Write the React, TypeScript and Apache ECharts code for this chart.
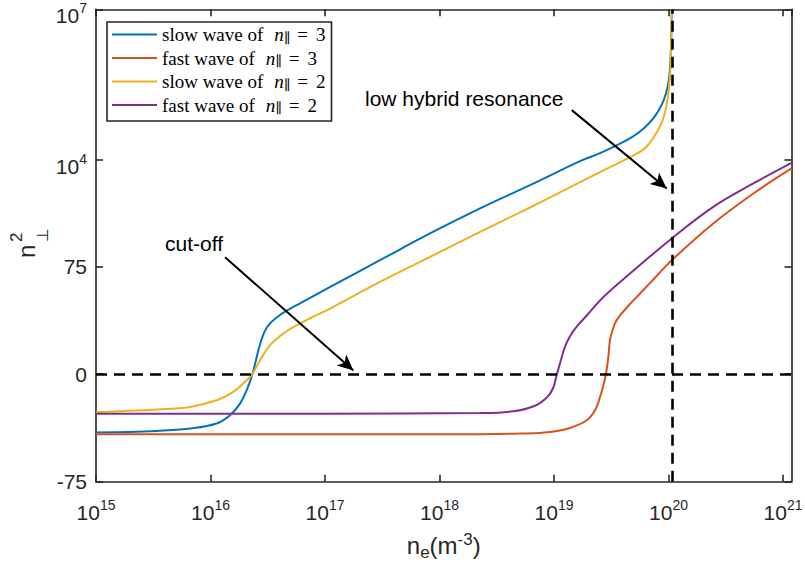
import { useEffect, useRef } from 'react';
import * as echarts from 'echarts';

// y-axis display transform (signed log-like scale used by the figure)
const K = 0.55;
const tr = (v: number) => Math.sign(v) * Math.log10(1 + Math.abs(v) / K);

// ---------- data (n_e in m^-3, n_perp^2) ----------
const slow3X = [1e15, 3.39e15, 6.62e15, 1.13e16, 1.48e16, 1.81e16, 2.07e16, 2.32e16, 2.47e16, 2.74e16, 3.11e16, 3.81e16, 5.05e16, 6.05e16, 1.11e17, 3.02e17, 8.26e17, 2.26e18, 6.17e18, 1.69e19, 2.52e19, 3.41e19, 4.8e19, 6.24e19, 7.62e19, 8.77e19, 9.51e19, 1.0e20, 1.031e20, 1.051e20, 1.062e20, 1.068e20];
const slow3Y = [-7.4, -6.84, -6.07, -4.71, -3.05, -1.56, -0.594, 0, 0.403, 1.83, 4.19, 6.94, 10.77, 13.5, 29.5, 101.5, 346.5, 1092, 3172, 9535, 13751, 18943, 28600, 45223, 74890, 129826, 214962, 355928, 676500, 1.94e6, 4.85e6, 1e7];

const fast3X = [1e15, 1e17, 2.26e18, 5.05e18, 9.23e18, 1.38e19, 1.93e19, 2.28e19, 2.52e19, 2.7e19, 2.84e19, 2.98e19, 3.08e19, 3.24e19, 3.48e19, 3.85e19, 4.43e19, 5.64e19, 7.62e19, 1.068e20, 2.46e20, 5.51e20, 1.186e21];
const fast3Y = [-8.05, -8.05, -8.0, -7.78, -7.18, -5.9, -3.98, -2.31, -1.03, -0.361, 0, 0.648, 2.06, 3.58, 5.69, 8.05, 11.85, 21.65, 45.2, 101.5, 548.2, 2169, 6829];

const slow2X = [1e15, 3.39e15, 6.62e15, 1.13e16, 1.58e16, 2.07e16, 2.32e16, 2.71e16, 3.31e16, 4.32e16, 5.66e16, 7.4e16, 1.11e17, 3.02e17, 8.26e17, 2.26e18, 6.17e18, 1.69e19, 2.52e19, 4.43e19, 6.24e19, 7.62e19, 8.77e19, 9.51e19, 1.009e20, 1.041e20, 1.056e20, 1.064e20, 1.069e20];
const slow2Y = [-2.59, -2.22, -1.91, -1.26, -0.687, -0.174, 0, 0.494, 1.53, 3.0, 4.64, 6.6, 10.6, 37.2, 118.1, 373, 1141, 3642, 5758, 10948, 17312, 31358, 56932, 108233, 270621, 676500, 1.94e6, 4.85e6, 1e7];

const fast2X = [1e15, 1e17, 2.26e18, 4.42e18, 6.82e18, 8.69e18, 9.8e18, 1.06e19, 1.17e19, 1.25e19, 1.38e19, 1.59e19, 1.94e19, 2.7e19, 4.61e19, 1.068e20, 2.46e20, 5.51e20, 1.186e21];
const fast2Y = [-2.8, -2.8, -2.7, -2.45, -1.78, -1.03, -0.495, 0, 0.665, 1.43, 2.59, 4.41, 7.66, 18.4, 54.9, 275.3, 1173, 3430, 8817];

const seriesNames = ['slow wave of n∥ = 3', 'fast wave of n∥ = 3', 'slow wave of n∥ = 2', 'fast wave of n∥ = 2'];
const legendLabels = [
  '{t|slow wave of}{n|n}{p|∥}{q|=}{r|3}',
  '{t|fast wave of}{n|n}{p|∥}{q|=}{r|3}',
  '{t|slow wave of}{n|n}{p|∥}{q|=}{r|2}',
  '{t|fast wave of}{n|n}{p|∥}{q|=}{r|2}',
];
const lineColors = ['#0072BD', '#D95319', '#EDB120', '#7E2F8E'];

const xMin = 1e15;
const xMax = 1.186e21;
const yMin = -75;
const yMax = 1e7;
const yTickValues = [-75, 0, 75, 1e4, 1e7];
const yTickLabels = ['{a|-75}', '{a|0}', '{a|75}', '{z| }\n{b|10}{s|4}', '{z| }\n{b|10}{s|7}'];

const resonanceX = 1.068e20;
const cutoffLevel = 0;
const cutoffArrow = [[1.34e16, 116.5], [1.77e17, 0.1]];
const resonanceArrow = [[1.43e19, 98709], [9.64e19, 2731]];
const cutoffText = 'cut-off';
const resonanceText = 'low hybrid resonance';

const SANS = 'Liberation Sans, Arial, Helvetica, sans-serif';
const SERIF = 'Liberation Serif, Times New Roman, serif';
const AX = '#262626';

export default function App() {
  const ref = useRef<HTMLDivElement>(null);
  useEffect(() => {
    if (!ref.current) return;
    const chart = echarts.init(ref.current, undefined, { renderer: 'svg' });
    const axisLineStyle = { color: AX, width: 1.6 };
    const xs = [slow3X, fast3X, slow2X, fast2X];
    const ys = [slow3Y, fast3Y, slow2Y, fast2Y];
    const yTicksT = yTickValues.map(tr);

    const series: any[] = seriesNames.map((name, i) => ({
      name,
      type: 'line',
      data: xs[i].map((x, j) => [x, tr(ys[i][j])]),
      showSymbol: false,
      symbol: 'none',
      smooth: 0.4,
      lineStyle: { color: lineColors[i], width: 2 },
      itemStyle: { color: lineColors[i] },
      emphasis: { disabled: true },
      z: 3,
    }));

    const dashed = { color: '#000', width: 2.6, type: [11, 7] as any };
    const arrowStyle = { color: '#000', width: 2, type: 'solid' as any };
    series.push({
      name: 'refs',
      type: 'line',
      data: [],
      silent: true,
      markLine: {
        silent: true,
        symbol: ['none', 'none'],
        label: { show: false },
        emphasis: { disabled: true },
        animation: false,
        data: [
          { yAxis: tr(cutoffLevel), lineStyle: dashed },
          { xAxis: resonanceX, lineStyle: dashed },
          [
            { coord: [cutoffArrow[0][0], tr(cutoffArrow[0][1])], symbol: 'none', lineStyle: arrowStyle },
            { coord: [cutoffArrow[1][0], tr(cutoffArrow[1][1])], symbol: 'arrow', symbolSize: [11, 16], lineStyle: arrowStyle },
          ],
          [
            { coord: [resonanceArrow[0][0], tr(resonanceArrow[0][1])], symbol: 'none', lineStyle: arrowStyle },
            { coord: [resonanceArrow[1][0], tr(resonanceArrow[1][1])], symbol: 'arrow', symbolSize: [11, 16], lineStyle: arrowStyle },
          ],
        ],
      },
      z: 5,
    });

    const xAxisBase = {
      type: 'log',
      logBase: 10,
      min: xMin,
      max: xMax,
      splitNumber: 6,
      splitLine: { show: false },
      minorTick: { show: false },
      axisLine: { show: true, onZero: false, lineStyle: axisLineStyle },
      axisTick: { show: true, inside: true, length: 7, lineStyle: axisLineStyle },
    };
    const yAxisBase = {
      type: 'value',
      min: tr(yMin),
      max: tr(yMax),
      splitLine: { show: false },
      axisLine: { show: true, onZero: false, lineStyle: axisLineStyle },
      axisTick: { show: true, inside: true, length: 7, customValues: yTicksT, lineStyle: axisLineStyle },
    };

    chart.setOption({
      animation: false,
      backgroundColor: '#fff',
      grid: { left: 96, right: 13.5, top: 9.3, bottom: 91.3, show: false, containLabel: false, outerBoundsMode: 'none' },
      legend: {
        data: seriesNames,
        orient: 'vertical',
        left: 107,
        top: 22,
        padding: [3, 6, 6, 5],
        itemGap: 4,
        itemWidth: 45,
        itemHeight: 2,
        icon: 'rect',
        selectedMode: false,
        backgroundColor: '#fff',
        borderColor: AX,
        borderWidth: 1.6,
        borderRadius: 0,
        formatter: (name: string) => legendLabels[seriesNames.indexOf(name)],
        textStyle: {
          color: '#000',
          rich: {
            t: { fontFamily: SERIF, fontSize: 19, lineHeight: 20, color: '#000' },
            n: { fontFamily: SERIF, fontStyle: 'italic', fontSize: 19, lineHeight: 20, color: '#000', padding: [0, 0, 0, 11] },
            p: { fontFamily: 'DejaVu Serif', fontSize: 14, lineHeight: 13, verticalAlign: 'bottom', color: '#000' },
            q: { fontFamily: SERIF, fontSize: 19, lineHeight: 20, color: '#000', padding: [0, 0, 0, 7] },
            r: { fontFamily: SERIF, fontSize: 19, lineHeight: 20, color: '#000', padding: [0, 0, 0, 8] },
          },
        },
      },
      xAxis: [
        {
          ...xAxisBase,
          position: 'bottom',
          axisLabel: {
            show: true,
            margin: 16,
            showMaxLabel: false,
            color: AX,
            formatter: (v: number) => `{b|10}{s|${Math.round(Math.log10(v))}}`,
            rich: {
              b: { fontFamily: SANS, fontSize: 21, lineHeight: 30, color: AX },
              s: { fontFamily: SANS, fontSize: 14, lineHeight: 12, verticalAlign: 'top', color: AX },
            },
          },
          name: '{n|n}{e|e}{n|(m}{u|-3}{n|)}',
          nameLocation: 'middle',
          nameGap: 49,
          nameMoveOverlap: false,
          nameTextStyle: {
            color: AX,
            rich: {
              n: { fontFamily: SANS, fontSize: 24, lineHeight: 30, color: AX },
              e: { fontFamily: SANS, fontSize: 17, lineHeight: 14, verticalAlign: 'bottom', color: AX },
              u: { fontFamily: SANS, fontSize: 17, lineHeight: 12, verticalAlign: 'top', color: AX },
            },
          },
        },
        {
          ...xAxisBase,
          position: 'top',
          axisLabel: { show: false },
        },
      ],
      yAxis: [
        {
          ...yAxisBase,
          position: 'left',
          axisLabel: {
            show: true,
            customValues: yTicksT,
            margin: 9,
            color: AX,
            formatter: (v: number) => {
              let best = 0;
              for (let i = 1; i < yTicksT.length; i++) {
                if (Math.abs(yTicksT[i] - v) < Math.abs(yTicksT[best] - v)) best = i;
              }
              return yTickLabels[best];
            },
            rich: {
              a: { fontFamily: SANS, fontSize: 21, lineHeight: 24, color: AX },
              b: { fontFamily: SANS, fontSize: 21, lineHeight: 29, color: AX },
              s: { fontFamily: SANS, fontSize: 14, lineHeight: 14, verticalAlign: 'top', color: AX },
              z: { fontFamily: SANS, fontSize: 2, lineHeight: 12, color: AX },
            },
          },
        },
        {
          ...yAxisBase,
          position: 'right',
          axisLabel: { show: false },
        },
      ],
      graphic: [
        {
          type: 'text',
          x: 365,
          y: 98,
          silent: true,
          style: { text: resonanceText, fontFamily: SANS, fontSize: 21, fill: '#000', align: 'left', verticalAlign: 'middle' },
        },
        {
          type: 'text',
          x: 165,
          y: 243.5,
          silent: true,
          style: { text: cutoffText, fontFamily: SANS, fontSize: 21, fill: '#000', align: 'left', verticalAlign: 'middle' },
        },
        {
          type: 'group',
          x: 35,
          y: 258,
          rotation: Math.PI / 2,
          silent: true,
          children: [
            { type: 'text', x: 0, y: -8.3, style: { text: 'n', fontFamily: SANS, fontSize: 24, fill: AX, align: 'left', verticalAlign: 'middle' } },
            { type: 'text', x: 16, y: -18.5, style: { text: '2', fontFamily: SANS, fontSize: 17, fill: AX, align: 'left', verticalAlign: 'middle' } },
            { type: 'text', x: 16, y: 7.5, style: { text: '⊥', fontFamily: 'DejaVu Sans, sans-serif', fontSize: 16, fill: AX, align: 'left', verticalAlign: 'middle' } },
          ],
        },
      ],
      series,
    });
    return () => chart.dispose();
  }, []);
  return <div ref={ref} style={{ position: 'fixed', left: 0, top: 0, width: 805, height: 573 }} />;
}
